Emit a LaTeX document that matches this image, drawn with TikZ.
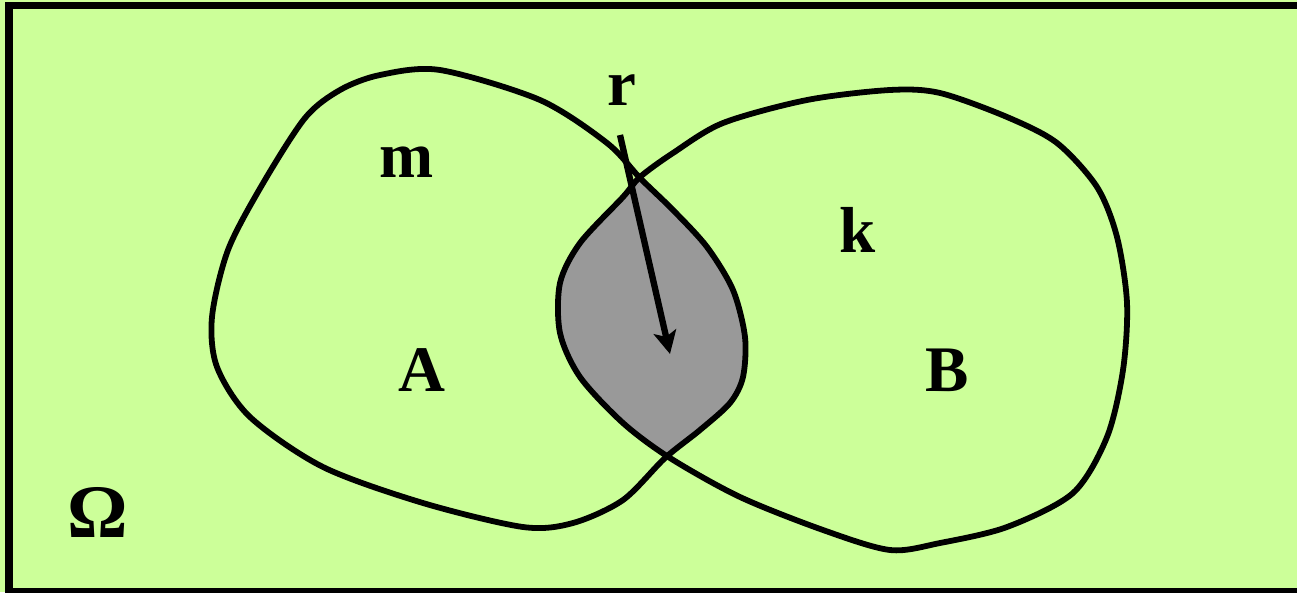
\documentclass[tikz,border=0pt]{standalone}
\usepackage{fontspec}
\setmainfont{Liberation Serif}
\definecolor{venngreen}{RGB}{204,255,153}
\definecolor{venngray}{RGB}{153,153,153}
\usetikzlibrary{arrows.meta}

\begin{document}
\begin{tikzpicture}[x=0.02cm,y=-0.02cm,
          outline/.style={draw=black,line width=3.3pt},
          lbl/.style={font=\fontsize{37}{44}\selectfont\bfseries,inner sep=0pt},
          pointer/.style={line width=3.6pt,-{Stealth[length=13pt,width=13pt,inset=3pt]}},
          setA/.style={insert path={plot[smooth cycle] coordinates{
            (440,70) (540,100) (607,143) (640,178) (673,210) (707,247) (733,290)
            (745,337) (743,377) (730,403) (700,430) (665,458) (623,500) (573,523)
            (523,527) (423,503) (323,467) (250,417) (217,367) (212,317) (228,250)
            (262,185) (305,118) (340,90) (380,75)}}},
          setB/.style={insert path={plot[smooth cycle] coordinates{
            (640,177) (673,153) (723,123) (807,100) (890,90) (940,93) (1007,117)
            (1057,143) (1097,187) (1117,237) (1127,303) (1123,370) (1107,437)
            (1073,493) (1007,527) (940,543) (890,550) (823,530) (740,497) (670,458)
            (623,423) (580,377) (560,333) (560,283) (580,243) (623,197)}}}]
        \useasboundingbox (0,0) rectangle (1297,592);
        \clip (0,0) rectangle (1297,592);
        \fill[venngreen] (0,0) rectangle (1297,592);
        % universe frame, open on the right
        \draw[line width=4pt] (1340,5.5) -- (9,5.5) -- (9,592) -- (1340,592);
        % intersection
        \begin{scope}
          \clip[setA];
          \fill[venngray,setB];
        \end{scope}
        \draw[outline,setA];
        \draw[outline,setB];
        % labels
        \node[lbl] (r) at (622,90) {r};
        \node[lbl] (m) at (407,162) {m};
        \node[lbl] (k) at (858,230) {k};
        \node[lbl] (A) at (422,370) {A};
        \node[lbl] (B) at (947,370) {B};
        \node[lbl,font=\fontsize{43}{52}\selectfont\bfseries] (Omega) at (98,512) {Ω};
        \coordinate (rfoot) at (620,135);
        \coordinate (tip) at (670,354);
        \draw[pointer] (rfoot) -- (tip);
\end{tikzpicture}
\end{document}
